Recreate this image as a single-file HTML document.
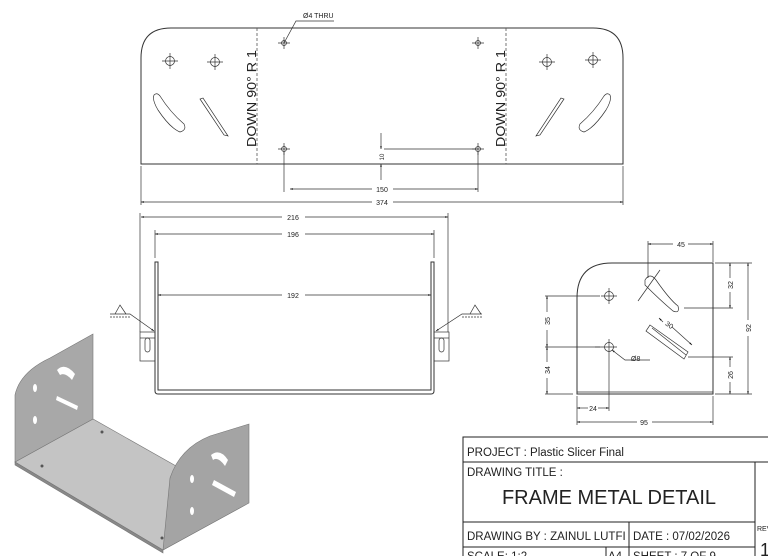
<!DOCTYPE html>
<html><head><meta charset="utf-8"><style>
html,body{margin:0;padding:0;background:#fff;width:768px;height:556px;overflow:hidden}
svg{display:block}
text{font-family:"Liberation Sans",sans-serif;fill:#222}
.d{stroke:#333;stroke-width:0.7;fill:none}
.o{stroke:#333;stroke-width:1;fill:none}
</style></head><body>
<svg width="768" height="556" viewBox="0 0 768 556" xmlns="http://www.w3.org/2000/svg">
<defs>
<marker id="a" viewBox="0 0 10 10" refX="10" refY="5" markerWidth="7" markerHeight="4" orient="auto-start-reverse"><path d="M0,2L10,5L0,8z" fill="#111"/></marker>
</defs>
<!-- TOP VIEW -->
<path class="o" d="M141,164 L141,58 Q141,28 171,28 L593,28 Q623,28 623,58 L623,164 Z"/>
<line x1="257" y1="28" x2="257" y2="164" stroke="#555" stroke-dasharray="3,2" stroke-width="0.8"/>
<line x1="506" y1="28" x2="506" y2="164" stroke="#555" stroke-dasharray="3,2" stroke-width="0.8"/>
<g class="d">
<circle cx="284" cy="43" r="2.5"/><circle cx="478" cy="43" r="2.5"/><circle cx="284" cy="149" r="2.5"/><circle cx="478" cy="149" r="2.5"/>
<path d="M278,43h12M284,37v12M472,43h12M478,37v12M278,149h12M284,143v12M472,149h12M478,143v12"/>
<circle cx="170" cy="61" r="4.5"/><circle cx="215" cy="62" r="4.5"/><circle cx="547" cy="62" r="4.5"/><circle cx="593" cy="60" r="4.5"/>
<path d="M162,61h16M170,53v16M207,62h16M215,54v16M539,62h16M547,54v16M585,60h16M593,52v16"/>
<path d="M154,95 Q152,100 158,110 Q170,128 180,132 Q187,130 184,124 Q170,112 160,96 Q157,92 154,95Z"/>
<path d="M200,99 L224,135 L228,136 L203,98Z"/>
<path d="M610,95 Q612,100 606,110 Q594,128 584,132 Q577,130 580,124 Q594,112 604,96 Q607,92 610,95Z"/>
<path d="M564,99 L540,135 L536,136 L561,98Z"/>
<line x1="284" y1="152" x2="284" y2="192"/><line x1="478" y1="152" x2="478" y2="192"/>
<line x1="141" y1="166" x2="141" y2="205"/><line x1="623" y1="166" x2="623" y2="205"/>
<line x1="290" y1="189" x2="372" y2="189" marker-start="url(#a)"/><line x1="393" y1="189" x2="478" y2="189" marker-end="url(#a)"/>
<line x1="141" y1="202" x2="372" y2="202" marker-start="url(#a)"/><line x1="393" y1="202" x2="623" y2="202" marker-end="url(#a)"/>
<line x1="384" y1="149" x2="478" y2="149"/>
<line x1="381" y1="133" x2="381" y2="149" marker-end="url(#a)"/><line x1="381" y1="180" x2="381" y2="164" marker-end="url(#a)"/>
<path d="M284,43 L296,21 L334,21"/>
</g>
<text x="382" y="192" font-size="7" text-anchor="middle">150</text>
<text x="382" y="205" font-size="7" text-anchor="middle">374</text>
<text x="384" y="157" font-size="6" transform="rotate(-90 384 157)" text-anchor="middle">10</text>
<text x="303" y="18" font-size="7">Ø4 THRU</text>
<text x="0" y="0" font-size="13" textLength="97" lengthAdjust="spacingAndGlyphs" transform="translate(256,147) rotate(-90)">DOWN 90° R 1</text>
<text x="0" y="0" font-size="13" textLength="97" lengthAdjust="spacingAndGlyphs" transform="translate(505,147) rotate(-90)">DOWN 90° R 1</text>
<!-- FRONT VIEW -->
<g class="d">
<path class="o" d="M155,262 V391 Q155,394 158,394 H431 Q434,394 434,391 V262 H431 V390 H158 V262 Z"/>
<rect x="140" y="332" width="15" height="29"/><rect x="434" y="332" width="15" height="29"/>
<rect x="145" y="338" width="5" height="14" rx="2.5"/><rect x="439" y="338" width="5" height="14" rx="2.5"/>
<line x1="140" y1="338" x2="155" y2="338"/><line x1="434" y1="338" x2="449" y2="338"/>
<line x1="140" y1="213" x2="140" y2="332"/><line x1="448" y1="213" x2="448" y2="332"/>
<line x1="155" y1="230" x2="155" y2="258"/><line x1="434" y1="230" x2="434" y2="258"/>
<line x1="141" y1="217" x2="282" y2="217" marker-start="url(#a)"/><line x1="305" y1="217" x2="448" y2="217" marker-end="url(#a)"/>
<line x1="155" y1="234" x2="282" y2="234" marker-start="url(#a)"/><line x1="305" y1="234" x2="434" y2="234" marker-end="url(#a)"/>
<line x1="158" y1="295" x2="282" y2="295" marker-start="url(#a)"/><line x1="305" y1="295" x2="431" y2="295" marker-end="url(#a)"/>
<path d="M110,314 H130 L154,331" marker-end="url(#a)"/><path d="M110,317 H130" stroke-dasharray="2,1"/>
<path d="M115,314 L120,305 L126,314"/>
<path d="M482,314 H462 L436,331" marker-end="url(#a)"/><path d="M462,317 H482" stroke-dasharray="2,1"/>
<path d="M470,314 L475,305 L481,314"/>
</g>
<text x="293" y="220" font-size="7" text-anchor="middle">216</text>
<text x="293" y="237" font-size="7" text-anchor="middle">196</text>
<text x="293" y="298" font-size="7" text-anchor="middle">192</text>
<!-- SIDE VIEW -->
<g class="d">
<path class="o" d="M577,394 V298 Q577,263 612,263 H713 V394 Z"/>
<line x1="577" y1="392" x2="713" y2="392"/>
<circle cx="609" cy="296" r="4.5"/><path d="M601,296h16M609,288v16"/>
<circle cx="609" cy="347" r="4.5"/><path d="M595,347h22M609,339v30"/>
<path d="M645,280 Q650,272 656,280 Q670,300 678,306 Q680,314 673,311 Q660,300 645,285Z"/>
<path d="M650,325 L688,352 L684,359 L646,331Z"/><path d="M652,328 L686,355"/>
<line x1="648" y1="241" x2="648" y2="278"/><line x1="713" y1="241" x2="713" y2="262"/>
<line x1="648" y1="244" x2="673" y2="244" marker-start="url(#a)"/><line x1="688" y1="244" x2="713" y2="244" marker-end="url(#a)"/>
<line x1="715" y1="263" x2="752" y2="263"/><line x1="715" y1="394" x2="752" y2="394"/>
<line x1="684" y1="308" x2="733" y2="308"/><line x1="688" y1="357" x2="733" y2="357"/>
<line x1="730" y1="263" x2="730" y2="278" marker-start="url(#a)"/><line x1="730" y1="292" x2="730" y2="308" marker-end="url(#a)"/>
<line x1="748" y1="263" x2="748" y2="320" marker-start="url(#a)"/><line x1="748" y1="336" x2="748" y2="394" marker-end="url(#a)"/>
<line x1="730" y1="357" x2="730" y2="367" marker-start="url(#a)"/><line x1="730" y1="382" x2="730" y2="394" marker-end="url(#a)"/>
<line x1="545" y1="296" x2="600" y2="296"/><line x1="545" y1="347" x2="600" y2="347"/><line x1="545" y1="394" x2="573" y2="394"/>
<line x1="547" y1="296" x2="547" y2="312" marker-start="url(#a)"/><line x1="547" y1="330" x2="547" y2="347" marker-end="url(#a)"/>
<line x1="547" y1="347" x2="547" y2="362" marker-start="url(#a)"/><line x1="547" y1="378" x2="547" y2="394" marker-end="url(#a)"/>
<line x1="577" y1="396" x2="577" y2="425"/><line x1="609" y1="369" x2="609" y2="411"/><line x1="713" y1="396" x2="713" y2="425"/>
<line x1="577" y1="408" x2="588" y2="408" marker-start="url(#a)"/><line x1="598" y1="408" x2="609" y2="408" marker-end="url(#a)"/>
<line x1="577" y1="422" x2="637" y2="422" marker-start="url(#a)"/><line x1="652" y1="422" x2="713" y2="422" marker-end="url(#a)"/>
<path d="M612,350 L625,360 H650" marker-start="url(#a)"/>
<line x1="659" y1="318" x2="663" y2="322" marker-start="url(#a)"/><line x1="672" y1="327" x2="692" y2="345" marker-end="url(#a)"/>
<path d="M638,301 L660,270"/>
</g>
<text x="681" y="247" font-size="7" text-anchor="middle">45</text>
<text x="644" y="422" font-size="7" text-anchor="middle" dy="3">95</text>
<text x="593" y="411" font-size="7" text-anchor="middle">24</text>
<text x="631" y="361" font-size="7">Ø8</text>
<text x="668" y="327" font-size="7" transform="rotate(35 668 327)" text-anchor="middle">30</text>
<text font-size="7" transform="translate(733,285) rotate(-90)" text-anchor="middle">32</text>
<text font-size="7" transform="translate(751,328) rotate(-90)" text-anchor="middle">92</text>
<text font-size="7" transform="translate(733,375) rotate(-90)" text-anchor="middle">26</text>
<text font-size="7" transform="translate(550,321) rotate(-90)" text-anchor="middle">35</text>
<text font-size="7" transform="translate(550,370) rotate(-90)" text-anchor="middle">34</text>
<!-- ISO VIEW -->
<g stroke="#777" stroke-width="0.6">
<path d="M15,462 L93,419 L245,505 L163,550 Z" fill="#c4c4c4"/>
<path d="M15,462 V395 Q20,372 50,358 L93,334 V419 Z" fill="#a8a8a8"/>
<path d="M163,550 L170,478 Q180,448 210,436 L249,424 V503 Z" fill="#a4a4a4"/>
<path d="M15,462 L163,550 L163,553 L15,465Z" fill="#888"/>
</g>
<g fill="#fff">
<path d="M57,370 Q65,362 75,374 L72,380 Q65,372 60,375Z"/><path d="M57,396 L78,406 L77,410 L56,400Z"/>
<ellipse cx="35" cy="388" rx="2" ry="4"/><ellipse cx="35" cy="420" rx="2" ry="4"/>
<path d="M211,455 Q220,448 228,460 L225,466 Q218,456 213,460Z"/><path d="M214,480 L236,492 L234,497 L212,485Z"/>
<ellipse cx="192" cy="479" rx="2" ry="4"/><ellipse cx="192" cy="511" rx="2" ry="4"/>
<circle cx="102" cy="432" r="1.5" fill="#555"/><circle cx="42" cy="466" r="1.5" fill="#555"/><circle cx="162" cy="538" r="1.5" fill="#555"/>
</g>
<!-- TITLE BLOCK -->
<g stroke="#222" stroke-width="1" fill="none">
<path d="M463,556 V437 H768"/>
<line x1="463" y1="462" x2="768" y2="462"/>
<line x1="463" y1="522" x2="755" y2="522"/>
<line x1="463" y1="547" x2="755" y2="547"/>
<line x1="755" y1="462" x2="755" y2="556"/>
<line x1="629" y1="522" x2="629" y2="556"/>
<line x1="606" y1="547" x2="606" y2="556"/>
</g>
<g font-size="11.5">
<text x="467" y="456">PROJECT : Plastic Slicer Final</text>
<text x="467" y="476">DRAWING TITLE :</text>
<text x="609" y="504" font-size="20" text-anchor="middle">FRAME METAL DETAIL</text>
<text x="467" y="540">DRAWING BY : ZAINUL LUTFI</text>
<text x="633" y="540">DATE : 07/02/2026</text>
<text x="757" y="531" font-size="7">REV</text>
<text x="760" y="556" font-size="18">1</text>
<text x="467" y="560">SCALE: 1:2</text>
<text x="608" y="560">A4</text>
<text x="633" y="560">SHEET : 7 OF 9</text>
</g>
</svg>
</body></html>
